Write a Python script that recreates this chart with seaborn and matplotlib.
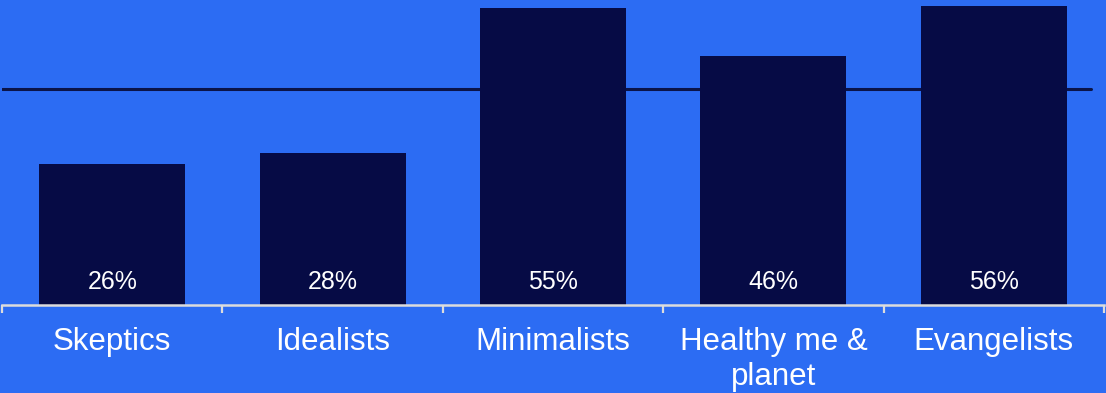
import matplotlib
matplotlib.use("Agg")
import matplotlib.pyplot as plt
import seaborn as sns
import pandas as pd
import numpy as np

# Segment shares (percent) and the overall reference level
segments = ["Skeptics", "Idealists", "Minimalists", "Healthy me &\nplanet", "Evangelists"]
shares = [26, 28, 55, 46, 56]
reference_level = 40

BG = "#2C6CF3"
BAR = "#060B45"
LINE = "#0B1448"
AXIS = "#DCDCDC"

sns.set_theme(style="white")
plt.rcParams["font.family"] = ["Liberation Sans", "DejaVu Sans"]

df = pd.DataFrame({"segment": segments, "share": shares})

fig = plt.figure(figsize=(11.06, 3.93), dpi=100, facecolor=BG)
ax = fig.add_axes([2 / 1106, (393 - 304.5) / 393, 1102 / 1106, (304.5 - 6) / 393])
ax.set_facecolor(BG)

sns.barplot(data=df, x="segment", y="share", color=BAR, width=0.662,
            saturation=1, ax=ax, edgecolor="none")

ax.set_xlim(-0.5, len(segments) - 0.5)
ax.set_ylim(0, 55.3)

# Reference line across the plot
ax.axhline(reference_level, xmin=0, xmax=0.988, color=LINE, lw=2.2, zorder=1)
for p in ax.patches:
    p.set_zorder(2)

# Value labels near the base of each bar
for i, v in enumerate(shares):
    ax.annotate(f"{v}%", xy=(i, 0), xytext=(0, 16.5), textcoords="offset points",
                ha="center", va="center", color="white", fontsize=18, zorder=3)

# Axes styling
for side in ["top", "right", "left"]:
    ax.spines[side].set_visible(False)
ax.spines["bottom"].set_color(AXIS)
ax.spines["bottom"].set_linewidth(1.8)
ax.set_yticks([])
ax.set_xlabel("")
ax.set_ylabel("")

ax.set_xticks(range(len(segments)))
ax.set_xticklabels(segments, color="white", fontsize=22.5, linespacing=1.25)
ax.tick_params(axis="x", which="major", bottom=True, length=0, pad=16)
ax.set_xticks(np.arange(-0.5, len(segments), 1.0), minor=True)
ax.tick_params(axis="x", which="minor", bottom=True, length=6, width=1.6,
               color=AXIS, direction="out")

fig.savefig("out.png", dpi=100, facecolor=BG)
